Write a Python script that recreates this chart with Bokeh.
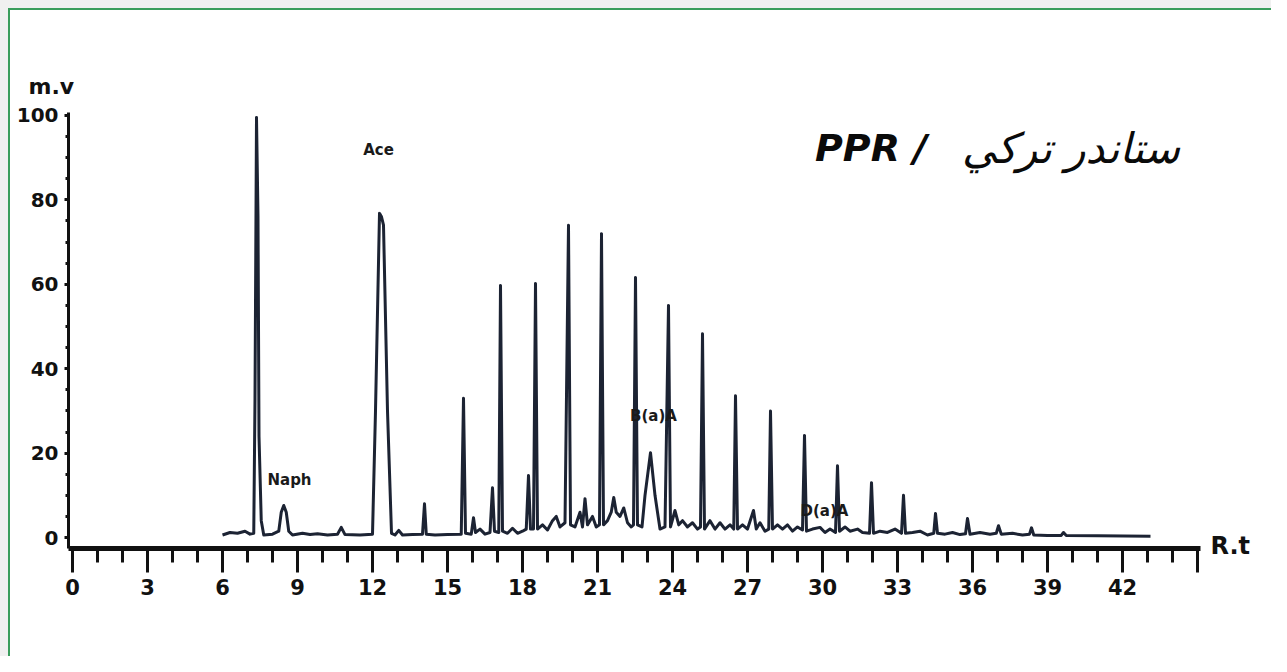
from bokeh.plotting import figure
from bokeh.models import Label, FixedTicker, ColumnDataSource, Range1d, LinearAxis
from bokeh.embed import file_html
from bokeh.resources import INLINE

# ---- chromatogram trace (retention time, signal in mV) ----
rt = [6.0, 6.3, 6.6, 6.9, 7.1, 7.25, 7.3, 7.36, 7.42, 7.46, 7.55, 7.65,
      8.0, 8.25, 8.35, 8.45, 8.55, 8.65, 8.8, 9.2, 9.5, 9.8, 10.2, 10.6, 10.75, 10.9,
      11.5, 12.0, 12.12, 12.28, 12.36, 12.44, 12.6, 12.76, 12.9, 13.05, 13.2, 13.6,
      14.0, 14.08, 14.15, 14.5, 15.0, 15.55, 15.64, 15.72, 15.95, 16.04, 16.12, 16.3,
      16.5, 16.7, 16.8, 16.88, 17.05, 17.12, 17.2, 17.4, 17.6, 17.8, 18.0, 18.15,
      18.24, 18.32, 18.44, 18.52, 18.6, 18.8, 19.0, 19.2, 19.35, 19.5, 19.7, 19.84,
      19.92, 20.1, 20.3, 20.4, 20.5, 20.6, 20.8, 20.95, 21.08, 21.16, 21.24, 21.4,
      21.55, 21.65, 21.75, 21.9, 22.05, 22.2, 22.35, 22.44, 22.52, 22.6, 22.78, 22.9,
      23.12, 23.3, 23.5, 23.7, 23.84, 23.92, 24.1, 24.25, 24.4, 24.6, 24.8, 25.0,
      25.12, 25.2, 25.28, 25.5, 25.7, 25.9, 26.1, 26.3, 26.45, 26.52, 26.6, 26.8,
      27.0, 27.24, 27.35, 27.5, 27.7, 27.85, 27.92, 28.0, 28.2, 28.4, 28.6, 28.8,
      29.0, 29.2, 29.28, 29.36, 29.6, 29.9, 30.1, 30.3, 30.52, 30.6, 30.68, 30.9,
      31.1, 31.4, 31.6, 31.88, 31.96, 32.04, 32.3, 32.6, 32.9, 33.16, 33.24, 33.32,
      33.6, 33.9, 34.2, 34.45, 34.52, 34.6, 34.9, 35.2, 35.5, 35.72, 35.8, 35.9,
      36.3, 36.7, 36.95, 37.04, 37.15, 37.6, 38.0, 38.28, 38.36, 38.45, 39.0, 39.55,
      39.64, 39.75, 41.0, 43.12]
signal = [0.6, 1.2, 1.0, 1.5, 0.8, 1.0, 33.0, 99.5, 76.0, 24.0, 4.0, 0.6,
          0.8, 1.5, 6.0, 7.6, 6.0, 1.5, 0.6, 1.0, 0.7, 0.9, 0.6, 0.8, 2.4, 0.7,
          0.6, 0.8, 30.0, 76.8, 76.0, 74.0, 30.0, 1.0, 0.6, 1.7, 0.6, 0.7,
          0.8, 8.0, 0.8, 0.6, 0.7, 0.8, 33.0, 1.0, 0.8, 4.7, 1.2, 2.0,
          0.8, 1.2, 11.8, 1.5, 1.2, 59.7, 1.5, 1.0, 2.2, 1.0, 1.5, 2.0,
          14.7, 2.0, 2.0, 60.2, 2.0, 3.0, 1.8, 4.0, 5.0, 2.5, 3.5, 74.0,
          3.0, 2.5, 6.0, 2.5, 9.2, 3.0, 5.0, 2.5, 3.0, 72.0, 3.0, 4.0,
          6.0, 9.5, 6.0, 5.0, 7.0, 3.5, 2.5, 3.0, 61.6, 3.0, 2.5, 10.0,
          20.1, 10.0, 2.0, 2.5, 55.0, 2.5, 6.4, 3.0, 4.0, 2.5, 3.5, 2.0,
          2.5, 48.3, 2.0, 4.0, 2.0, 3.5, 2.0, 3.0, 2.0, 33.6, 2.0, 3.0,
          2.0, 6.4, 2.0, 3.5, 1.5, 2.0, 30.0, 2.0, 3.0, 2.0, 3.0, 1.5,
          2.5, 1.8, 24.2, 1.5, 2.0, 2.4, 1.2, 2.0, 1.2, 17.0, 1.5, 2.5,
          1.5, 2.0, 1.2, 1.0, 13.0, 1.0, 1.5, 1.2, 2.0, 1.0, 10.0, 1.0,
          1.2, 1.5, 0.6, 1.0, 5.7, 1.0, 0.8, 1.2, 0.7, 0.9, 4.5, 0.8,
          1.2, 0.8, 1.0, 2.8, 0.8, 1.0, 0.6, 0.8, 2.3, 0.6, 0.5, 0.5,
          1.2, 0.5, 0.4, 0.3]

# ---- axis ticks ----
x_major = [0, 3, 6, 9, 12, 15, 18, 21, 24, 27, 30, 33, 36, 39, 42, 45]
x_minor = list(range(0, 46))
x_labels = {45: ""}
y_major = [0, 20, 40, 60, 80, 100]
y_minor = list(range(0, 101, 5))
x_title = "R.t"
y_title = "m.v"

# ---- peak annotations ----
peak_names = ["Naph", "Ace", "B(a)A", "D(a)A"]
peak_x = [8.68, 12.24, 23.24, 30.08]
peak_y = [13.7, 91.9, 28.7, 6.2]

title_latin = "PPR /"
title_arabic = "ستاندر تركي"

src = ColumnDataSource(dict(rt=rt, signal=signal))

GREEN = "#3a9d5c"
p = figure(width=1271, height=656, output_backend="svg", toolbar_location=None,
           x_range=Range1d(-0.16, 45.12), y_range=Range1d(-2.6, 100.7),
           min_border_left=68, min_border_right=71, min_border_top=112,
           min_border_bottom=108)
p.styles = {
    "background-color": "#f0f0f0",
    "background-image": (f"linear-gradient({GREEN}, {GREEN}), "
                         f"linear-gradient({GREEN}, {GREEN}), "
                         "linear-gradient(#ffffff, #ffffff)"),
    "background-size": "2px 100%, 100% 2px, 100% 100%",
    "background-position": "8px 8px, 8px 8px, 10px 10px",
    "background-repeat": "no-repeat",
}
p.background_fill_color = "white"
p.border_fill_color = None
p.outline_line_color = None
p.xgrid.visible = False
p.ygrid.visible = False

# y-axis unit title ("m.v") placed above the axis
p.title.text = y_title
p.title.align = "left"
p.title.offset = -40
p.title.standoff = 27
p.title.text_font = "DejaVu Sans"
p.title.text_font_style = "bold"
p.title.text_font_size = "22px"
p.title.text_color = "#111111"

p.line("rt", "signal", source=src, line_color="#1c2333", line_width=3,
       line_join="round")

# x axis
xa = p.xaxis[0]
xa.ticker = FixedTicker(ticks=x_major, minor_ticks=x_minor)
xa.major_label_overrides = x_labels
xa.axis_line_width = 5
xa.axis_line_color = "#111111"
xa.major_tick_line_width = 3
xa.minor_tick_line_width = 3
xa.major_tick_line_color = "#111111"
xa.minor_tick_line_color = "#111111"
xa.major_tick_in = 0
xa.major_tick_out = 24
xa.minor_tick_in = 0
xa.minor_tick_out = 14
xa.major_label_standoff = 6
xa.major_label_text_font = "DejaVu Sans"
xa.major_label_text_font_style = "bold"
xa.major_label_text_font_size = "21px"
xa.major_label_text_color = "#111111"

# y axis
ya = p.yaxis[0]
ya.ticker = FixedTicker(ticks=y_major, minor_ticks=y_minor)
ya.axis_line_width = 3
ya.axis_line_color = "#111111"
ya.major_tick_line_width = 3
ya.minor_tick_line_width = 3
ya.major_tick_line_color = "#111111"
ya.minor_tick_line_color = "#111111"
ya.major_tick_in = 0
ya.major_tick_out = 4
ya.minor_tick_in = 0
ya.minor_tick_out = 3
ya.major_label_standoff = 6
ya.major_label_text_font = "DejaVu Sans"
ya.major_label_text_font_style = "bold"
ya.major_label_text_font_size = "20px"
ya.major_label_text_color = "#111111"

# "R.t" shown at the right end of the time axis
ra = LinearAxis(ticker=FixedTicker(ticks=[-2], minor_ticks=[]),
                major_label_overrides={-2: x_title},
                axis_line_color=None, major_tick_line_color=None,
                minor_tick_line_color=None, major_tick_out=0, major_tick_in=0,
                major_label_standoff=10, major_label_text_font="DejaVu Sans",
                major_label_text_font_style="bold",
                major_label_text_font_size="24px",
                major_label_text_color="#111111")
p.add_layout(ra, "right")

# peak labels
for name, lx, ly in zip(peak_names, peak_x, peak_y):
    p.add_layout(Label(x=lx, y=ly, text=name, text_align="center",
                       text_baseline="middle", text_font="DejaVu Sans",
                       text_font_style="bold", text_font_size="15px",
                       text_color="#1a1a1a"))

# title
p.add_layout(Label(x=29.7, y=92.2, text=title_latin, text_align="left",
                   text_baseline="middle", text_font="DejaVu Sans",
                   text_font_style="bold italic", text_font_size="38px",
                   text_color="#0a0a0a"))
p.add_layout(Label(x=44.3, y=92.2, text=title_arabic, text_align="right",
                   text_baseline="middle", text_font="DejaVu Sans",
                   text_font_style="italic", text_font_size="42px",
                   text_color="#0a0a0a"))

open("out.html", "w").write(file_html(p, INLINE))
